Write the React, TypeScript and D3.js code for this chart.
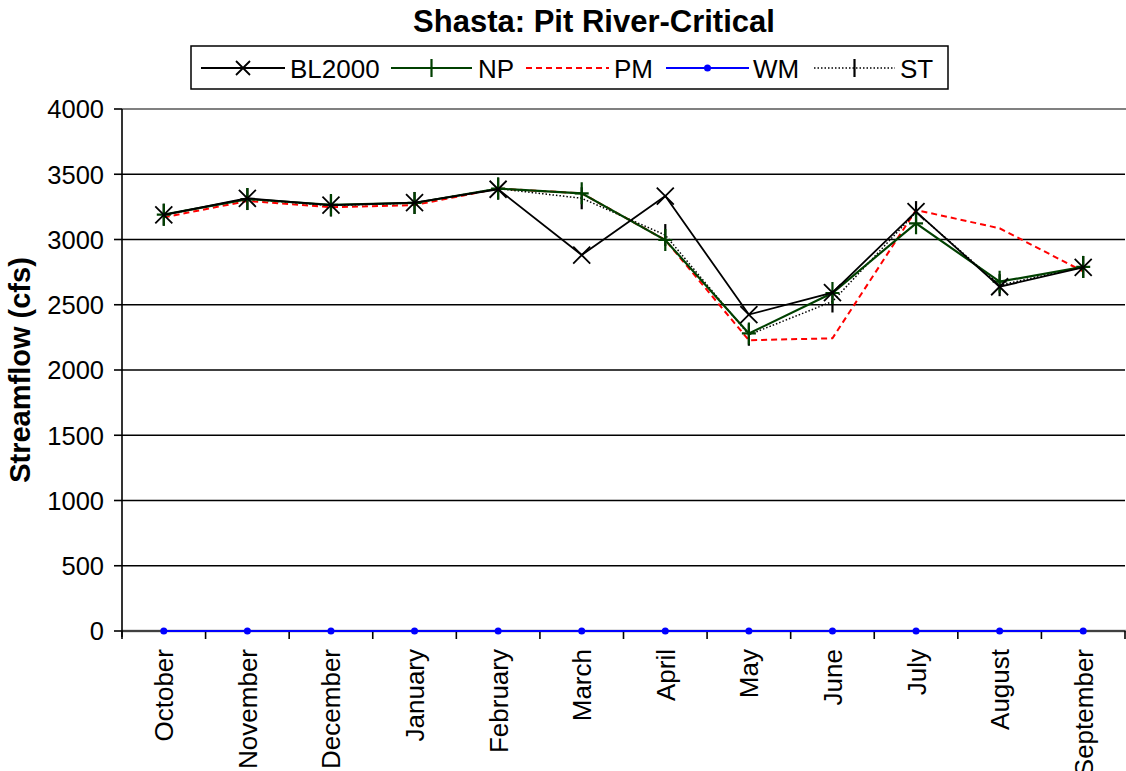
import React from "react";
import * as d3 from "d3";

const months = ["October","November","December","January","February","March","April","May","June","July","August","September"];
const bl2000 = [3188,3316,3264,3282,3385,2881,3333,2425,2593,3213,2638,2787];
const np = [3190,3310,3265,3280,3390,3354,2996,2280,2590,3124,2677,2790];
const pm = [3170,3295,3247,3264,3390,3354,2996,2228,2243,3226,3086,2755];
const wm = [0,0,0,0,0,0,0,0,0,0,0,0];
const st = [3190,3310,3260,3280,3390,3316,3034,2270,2525,3210,2650,2790];
const yTicks = [0,500,1000,1500,2000,2500,3000,3500,4000];

const W = 1126, H = 771;
const L = 122, R = 1125, T = 109, B = 631;
const FONT = "'Liberation Sans', Arial, sans-serif";

export default function App() {
  const x = d3.scaleBand().domain(months).range([L, R]);
  const y = d3.scaleLinear().domain([0, 4000]).range([B, T]);
  const cx = (m: string) => (x(m) as number) + x.bandwidth() / 2;
  const line = d3.line<number>().x((_, i) => cx(months[i])).y(d => y(d));

  const xMark = (px: number, py: number, s = 8.5, key?: any) => (
    <path key={key} d={`M${px - s},${py - s}L${px + s},${py + s}M${px - s},${py + s}L${px + s},${py - s}`} stroke="#000" strokeWidth={1.8} fill="none" />
  );
  const plusMark = (px: number, py: number, color: string, v = 11, key?: any) => (
    <path key={key} d={`M${px - 7},${py}L${px + 7},${py}M${px},${py - v}L${px},${py + v}`} stroke={color} strokeWidth={2.2} fill="none" />
  );
  const barMark = (px: number, py: number, v = 11, key?: any) => (
    <path key={key} d={`M${px},${py - v}L${px},${py + v}`} stroke="#000" strokeWidth={2.2} fill="none" />
  );

  const green = "#004000";
  const boundaries = d3.range(months.length + 1).map(i => L + i * x.bandwidth());

  // legend
  const ly = 68;
  const legend = [
    { x1: 201, x2: 285, tx: 290, label: "BL2000", color: "#000", dash: undefined as string | undefined, w: 1.8, mark: (px: number) => xMark(px, ly, 7) },
    { x1: 391, x2: 472, tx: 478, label: "NP", color: green, dash: undefined, w: 2, mark: (px: number) => plusMark(px, ly, green, 9) },
    { x1: 526, x2: 609, tx: 614, label: "PM", color: "#ff0000", dash: "6,4", w: 2, mark: (_: number) => null },
    { x1: 666, x2: 749, tx: 753, label: "WM", color: "#0000ff", dash: undefined, w: 2, mark: (px: number) => <circle cx={px} cy={ly} r={3.5} fill="#0000ff" /> },
    { x1: 814, x2: 895, tx: 900, label: "ST", color: "#000", dash: "1.5,2", w: 1.5, mark: (px: number) => barMark(px, ly, 9) },
  ];

  return (
    <svg width={W} height={H} style={{ position: "absolute", left: 0, top: 0, background: "#fff" }} fontFamily={FONT}>
      <rect x={0} y={0} width={W} height={H} fill="#fff" />
      <text x={594} y={32} textAnchor="middle" fontSize={31} fontWeight="bold">Shasta: Pit River-Critical</text>

      {/* legend */}
      <rect x={191} y={46} width={757} height={43} fill="#fff" stroke="#000" strokeWidth={1.5} />
      {legend.map((it, i) => (
        <g key={i}>
          <line x1={it.x1} x2={it.x2} y1={ly} y2={ly} stroke={it.color} strokeWidth={it.w} strokeDasharray={it.dash} />
          {it.mark((it.x1 + it.x2) / 2)}
          <text x={it.tx} y={ly + 9.5} fontSize={26}>{it.label}</text>
        </g>
      ))}

      {/* gridlines */}
      {yTicks.filter(t => t > 0 && t < 4000).map(t => (
        <line key={t} x1={L} x2={R} y1={y(t)} y2={y(t)} stroke="#000" strokeWidth={1.6} />
      ))}
      <line x1={L} x2={W} y1={y(4000)} y2={y(4000)} stroke="#808080" strokeWidth={2} />
      <line x1={L} x2={W} y1={y(0)} y2={y(0)} stroke="#808080" strokeWidth={2.5} />
      <line x1={L} x2={R} y1={y(0)} y2={y(0)} stroke="#000" strokeWidth={1} />

      {/* y axis */}
      <line x1={L} x2={L} y1={T} y2={B + 6} stroke="#000" strokeWidth={1.6} />
      {yTicks.map(t => (
        <g key={t}>
          <line x1={L - 8} x2={L} y1={y(t)} y2={y(t)} stroke="#000" strokeWidth={1.6} />
          <text x={104} y={y(t) + 9.3} textAnchor="end" fontSize={25.5}>{t}</text>
        </g>
      ))}
      <text transform={`translate(30,${(T + B) / 2}) rotate(-90)`} textAnchor="middle" fontSize={29} fontWeight="bold">Streamflow (cfs)</text>

      {/* x axis ticks */}
      {boundaries.map((bx, i) => (
        <line key={i} x1={bx} x2={bx} y1={B} y2={B + 8} stroke="#000" strokeWidth={1.6} />
      ))}
      {months.map(m => (
        <text key={m} transform={`translate(${cx(m) + 9.5},${649}) rotate(-90)`} textAnchor="end" fontSize={26}>{m}</text>
      ))}

      {/* series */}
      <path d={line(wm) as string} fill="none" stroke="#0000ff" strokeWidth={2} />
      {wm.map((v, i) => <circle key={i} cx={cx(months[i])} cy={y(v)} r={3.5} fill="#0000ff" />)}

      <path d={line(pm) as string} fill="none" stroke="#ff0000" strokeWidth={2} strokeDasharray="6,4" />
      <path d={line(st) as string} fill="none" stroke="#000" strokeWidth={1.5} strokeDasharray="1.5,2" />
      {st.map((v, i) => barMark(cx(months[i]), y(v), 11, "st" + i))}
      <path d={line(np) as string} fill="none" stroke={green} strokeWidth={2.2} />
      {np.map((v, i) => plusMark(cx(months[i]), y(v), green, 11, "np" + i))}
      <path d={line(bl2000) as string} fill="none" stroke="#000" strokeWidth={1.8} />
      {bl2000.map((v, i) => xMark(cx(months[i]), y(v), 8.5, "bl" + i))}
    </svg>
  );
}
